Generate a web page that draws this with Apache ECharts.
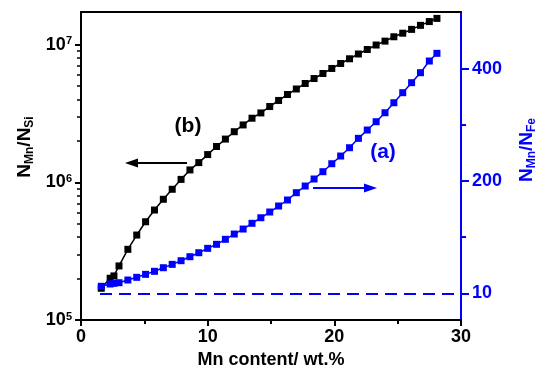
<!DOCTYPE html>
<html>
<head>
<meta charset="utf-8">
<script src="https://cdn.jsdelivr.net/npm/echarts@6/dist/echarts.min.js"></script>
<style>html,body{margin:0;padding:0;background:#fff;}#c{width:550px;height:381px;}</style>
</head>
<body>
<div id="c"></div>
<script>
// Mn content (wt.%)
var mnContent = [1.6, 2.3, 2.6, 3.0, 3.7, 4.4, 5.1, 5.8, 6.5, 7.2, 7.9, 8.6, 9.3, 10.0, 10.7, 11.4, 12.1, 12.8, 13.5, 14.2,
  14.9, 15.6, 16.3, 17.0, 17.7, 18.4, 19.1, 19.8, 20.5, 21.2, 21.9, 22.6, 23.3, 24.0, 24.7, 25.4, 26.1, 26.8, 27.5, 28.1];
// (b) N_Mn/N_Si (left, log axis)
var ratioMnSi = [1.70e5, 2.01e5, 2.09e5, 2.47e5, 3.26e5, 4.14e5, 5.17e5, 6.29e5, 7.53e5, 8.90e5,
  1.05e6, 1.23e6, 1.39e6, 1.59e6, 1.82e6, 2.06e6, 2.33e6, 2.61e6, 2.92e6, 3.19e6,
  3.55e6, 3.93e6, 4.34e6, 4.76e6, 5.22e6, 5.67e6, 6.17e6, 6.71e6, 7.29e6, 7.89e6,
  8.55e6, 9.21e6, 9.93e6, 1.06e7, 1.14e7, 1.21e7, 1.29e7, 1.38e7, 1.47e7, 1.55e7];
// (a) N_Mn/N_Fe (right axis units; the "10" tick sits at axis position 0)
var ratioMnFe = [12.5, 16.6, 17.8, 18.9, 23.7, 28.5, 33.8, 39.2, 45.6, 51.6, 58.1, 65.2, 72.3, 80.1, 87.3, 96.2,
  105.6, 114.5, 124.7, 134.6, 144.8, 155.5, 166.2, 179.2, 191.1, 203.6, 216.6, 230.8, 244.5, 259.3,
  276.0, 290.8, 305.6, 321.6, 339.4, 357.3, 375.1, 392.9, 413.7, 427.4];
var leftMajor = [1e5, 1e6, 1e7];
var leftMinor = [2e5,3e5,4e5,5e5,6e5,7e5,8e5,9e5,2e6,3e6,4e6,5e6,6e6,7e6,8e6,9e6];
var rightMajor = [0, 200, 400];
var rightMajorLabels = {0: '10', 200: '200', 400: '400'};
var rightMinor = [100, 300];
var refLine = {xFrom: 1.5, xTo: 30, y: 0};
var leftMin = 1e5, leftMax = 1.725e7;

var BLUE = '#0000ff';
var FONT = 'Liberation Sans';
var chart = echarts.init(document.getElementById('c'));
var sBlack = mnContent.map(function (x, i) { return [x, ratioMnSi[i]]; });
var sBlue = mnContent.map(function (x, i) { return [x, ratioMnFe[i]]; });

var option = {
  animation: false,
  backgroundColor: '#fff',
  grid: {left: 81, right: 89, top: 12, bottom: 61},
  xAxis: [{
    type: 'value', min: 0, max: 30, interval: 10, position: 'bottom',
    axisLine: {onZero: false, lineStyle: {color: '#000', width: 2}},
    axisTick: {show: true, length: 6, lineStyle: {color: '#000', width: 2}},
    minorTick: {show: true, splitNumber: 2, length: 4, lineStyle: {color: '#000', width: 2}},
    splitLine: {show: false}, minorSplitLine: {show: false},
    axisLabel: {color: '#000', fontFamily: FONT, fontWeight: 'bold', fontSize: 18, margin: 8},
    name: 'Mn content/ wt.%', nameLocation: 'middle', nameGap: 31,
    nameTextStyle: {color: '#000', fontFamily: FONT, fontWeight: 'bold', fontSize: 18}
  }, {
    type: 'value', min: 0, max: 30, position: 'top',
    axisLine: {onZero: false, lineStyle: {color: '#000', width: 2}},
    axisTick: {show: false}, axisLabel: {show: false}, splitLine: {show: false}
  }],
  yAxis: [{
    type: 'log', logBase: 10, min: leftMin, max: leftMax, position: 'left',
    axisLine: {onZero: false, lineStyle: {color: '#000', width: 2}},
    axisTick: {show: true, length: 6, customValues: leftMajor, lineStyle: {color: '#000', width: 2}},
    splitLine: {show: false},
    axisLabel: {
      customValues: leftMajor, margin: 9,
      formatter: function (v) { return '{b|10}{s|' + Math.round(Math.log10(v)) + '}'; },
      rich: {
        b: {color: '#000', fontFamily: FONT, fontWeight: 'bold', fontSize: 18},
        s: {color: '#000', fontFamily: FONT, fontWeight: 'bold', fontSize: 11, verticalAlign: 'top', padding: [0, 0, 6, 0]}
      }
    }
  }, {
    type: 'value', min: -47.5, max: 501, position: 'right',
    axisLine: {onZero: false, lineStyle: {color: BLUE, width: 2}},
    axisTick: {show: true, length: 8, customValues: rightMajor, lineStyle: {color: BLUE, width: 2}},
    splitLine: {show: false},
    axisLabel: {
      customValues: rightMajor, margin: 11,
      color: BLUE, fontFamily: FONT, fontWeight: 'bold', fontSize: 18,
      formatter: function (v) { return rightMajorLabels[v]; }
    }
  }, {
    // helper axis in decades (log10 units) carrying the minor ticks of the left axis
    type: 'value', min: Math.log10(leftMin), max: Math.log10(leftMax), position: 'left',
    axisLine: {show: false, onZero: false},
    axisTick: {show: true, length: 4, customValues: leftMinor.map(Math.log10), lineStyle: {color: '#000', width: 1.5}},
    axisLabel: {show: false}, splitLine: {show: false}
  }, {
    type: 'value', min: -47.5, max: 501, position: 'right',
    axisLine: {show: false, onZero: false},
    axisTick: {show: true, length: 5, customValues: rightMinor, lineStyle: {color: BLUE, width: 2}},
    axisLabel: {show: false}, splitLine: {show: false}
  }],
  series: [{
    name: 'b', type: 'line', xAxisIndex: 0, yAxisIndex: 0, data: sBlack,
    symbol: 'rect', symbolSize: 7,
    lineStyle: {color: '#000', width: 1.5}, itemStyle: {color: '#000'}, z: 3
  }, {
    name: 'a', type: 'line', xAxisIndex: 0, yAxisIndex: 1, data: sBlue,
    symbol: 'rect', symbolSize: 7,
    lineStyle: {color: BLUE, width: 1.5}, itemStyle: {color: BLUE}, z: 4,
    markLine: {
      silent: true, symbol: 'none', label: {show: false},
      lineStyle: {color: BLUE, width: 2, type: [12, 7]},
      data: [[{coord: [refLine.xFrom, refLine.y]}, {coord: [refLine.xTo, refLine.y]}]]
    }
  }],
  graphic: [
    {type: 'text', x: 25, y: 147, rotation: Math.PI / 2,
      style: {text: '{n|N}{s|Mn}{n|/N}{s|Si}', align: 'center', verticalAlign: 'middle',
        rich: {
          n: {fill: '#000', fontFamily: FONT, fontWeight: 'bold', fontSize: 19},
          s: {fill: '#000', fontFamily: FONT, fontWeight: 'bold', fontSize: 12, padding: [10, 0, 0, 0], verticalAlign: 'top'}
        }}},
    {type: 'text', x: 527, y: 150, rotation: Math.PI / 2,
      style: {text: '{n|N}{s|Mn}{n|/N}{s|Fe}', align: 'center', verticalAlign: 'middle',
        rich: {
          n: {fill: BLUE, fontFamily: FONT, fontWeight: 'bold', fontSize: 19},
          s: {fill: BLUE, fontFamily: FONT, fontWeight: 'bold', fontSize: 12, padding: [10, 0, 0, 0], verticalAlign: 'top'}
        }}},
    {type: 'text', x: 188, y: 126,
      style: {text: '(b)', fill: '#000', font: 'bold 21px "Liberation Sans"', align: 'center', verticalAlign: 'middle'}},
    {type: 'text', x: 383, y: 152,
      style: {text: '(a)', fill: BLUE, font: 'bold 21px "Liberation Sans"', align: 'center', verticalAlign: 'middle'}},
    {type: 'line', shape: {x1: 187, y1: 163, x2: 133, y2: 163}, style: {stroke: '#000', lineWidth: 2}},
    {type: 'polygon', shape: {points: [[125, 163], [138, 158.5], [138, 167.5]]}, style: {fill: '#000'}},
    {type: 'line', shape: {x1: 313, y1: 188, x2: 368, y2: 188}, style: {stroke: BLUE, lineWidth: 2}},
    {type: 'polygon', shape: {points: [[377, 188], [364, 183.5], [364, 192.5]]}, style: {fill: BLUE}}
  ]
};
chart.setOption(option);
</script>
</body>
</html>
